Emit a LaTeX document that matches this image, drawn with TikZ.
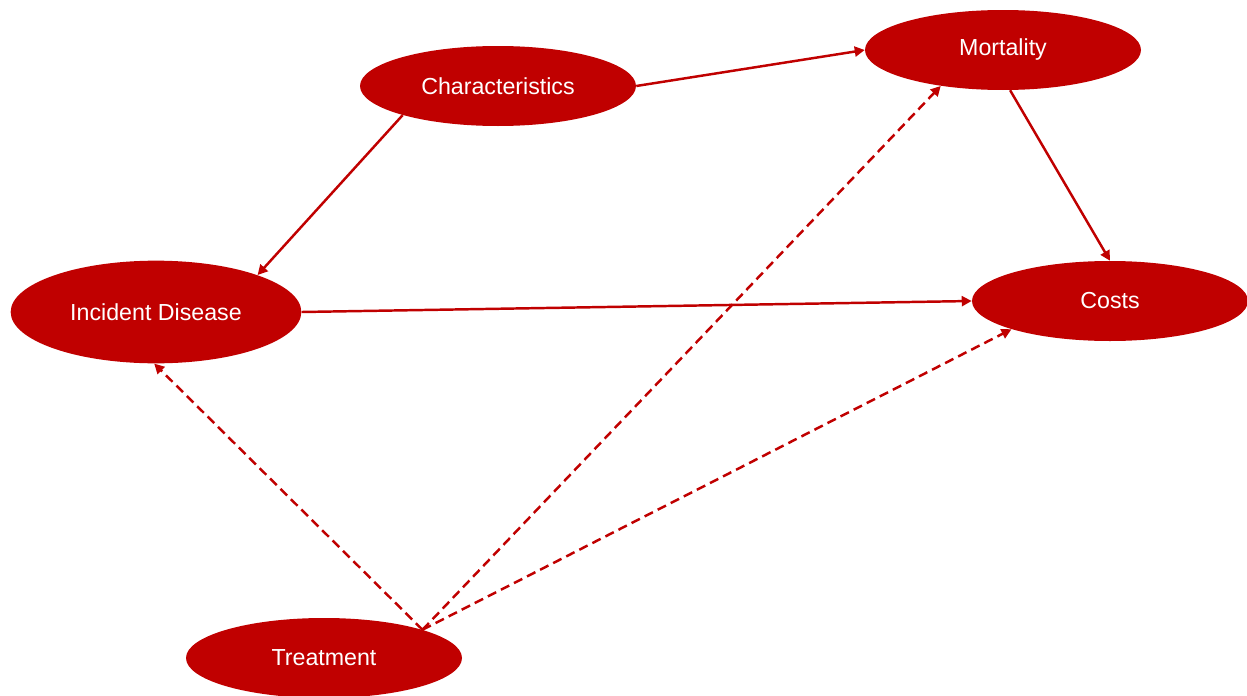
\documentclass[tikz,border=0pt]{standalone}
\usepackage{fontspec}
\setmainfont{Liberation Sans}
\usetikzlibrary{shapes.geometric,arrows.meta}
\definecolor{darkred}{RGB}{192,0,0}
\begin{document}
\begin{tikzpicture}[x=0.75pt,y=-0.75pt,
  factor/.style={ellipse,fill=darkred,draw=none,inner sep=0pt,
    text=white,font=\fontsize{17.4pt}{20pt}\selectfont},
  link/.style={draw=darkred,line width=1.85pt,-{Triangle[length=7.5pt,width=7.5pt]}},
  maybe/.style={link,dash pattern=on 7pt off 4pt}]
  \useasboundingbox (0,0) rectangle (1247,696);
  % factors
  \node[factor,minimum width=207pt,minimum height=60pt] (char) at (498,86) {Characteristics};
  \node[factor,minimum width=207pt,minimum height=60pt] (mort) at (1003,50) {\raisebox{-1.5pt}{Mortality}};
  \node[factor,minimum width=218pt,minimum height=77pt] (inc) at (156,312) {Incident Disease};
  \node[factor,minimum width=207pt,minimum height=60pt] (cost) at (1110,301) {Costs};
  \node[factor,minimum width=207pt,minimum height=60pt] (treat) at (324,658) {Treatment};
  % direct effects
  \draw[link] (char.east) -- (mort.west);
  \draw[link] (char.197) -- (inc.20);
  \draw[link] (mort.280) -- (cost.north);
  \draw[link] (inc.east) -- (cost.west);
  % treatment effects
  \draw[maybe] (treat.16) -- (inc.268);
  \draw[maybe] (treat.16) -- (mort.210);
  \draw[maybe] (treat.16) -- (cost.196.5);
\end{tikzpicture}
\end{document}
